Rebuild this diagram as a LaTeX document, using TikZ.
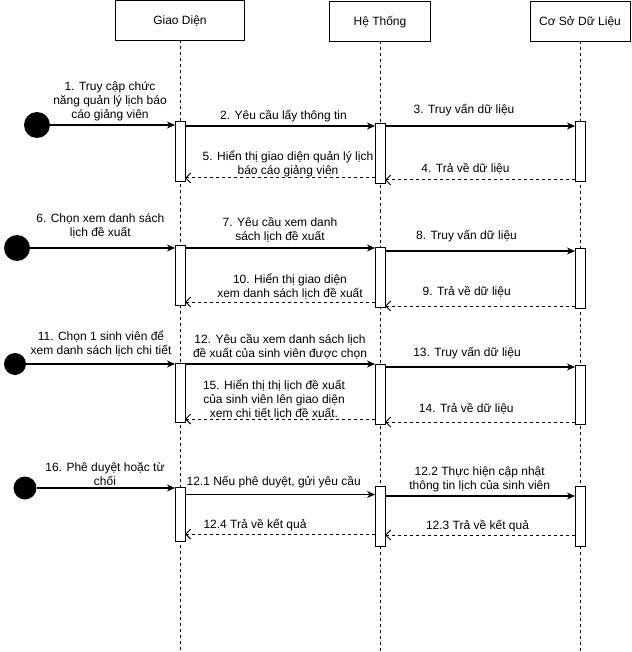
\documentclass[tikz,border=0pt]{standalone}
\usepackage{fontspec}
\setmainfont{Liberation Sans}
\usetikzlibrary{arrows.meta}
\newcommand{\fl}{\rule{0pt}{12pt}}
\begin{document}
\begin{tikzpicture}[x=1pt,y=-1pt,
  head/.style={draw, line width=1pt, fill=white, inner sep=0pt, outer sep=0pt, font=\fontsize{12}{14.4}\selectfont, text height=8.6pt, text depth=0pt, minimum height=40pt},
  life/.style={line width=1pt, dash pattern=on 3pt off 3pt},
  act/.style={draw, line width=1pt, fill=white, inner sep=0pt, outer sep=0pt, minimum width=10pt},
  initdot/.style={circle, fill=black, inner sep=0pt, outer sep=0pt},
  msg/.style={line width=1.1pt, -{Stealth[length=8pt,width=7pt,inset=2.5pt]}},
  ret/.style={line width=1pt, dash pattern=on 3pt off 3pt, -{Straight Barb[length=5pt,width=10pt]}},
  lbl/.style={font=\fontsize{12}{14}\selectfont, align=center, inner sep=0pt, anchor=north, yshift=1.5pt},
]
\useasboundingbox (0,0) rectangle (631,652);
\fill[white] (0,0) rectangle (631,652);

% headers
\node[head, minimum width=129pt] (gd) at (180,20.5) {Giao Diện};
\node[head, minimum width=101pt] (ht) at (380,21.5) {Hệ Thống};
\node[head, minimum width=100pt] (db) at (580,21.5) {Cơ Sở Dữ Liệu};

% lifelines
\coordinate (bot) at (0,652);
\draw[life] (gd.south) -- (gd.south |- bot);
\draw[life] (ht.south) -- (ht.south |- bot);
\draw[life] (db.south) -- (db.south |- bot);

% activations
\node[act, minimum height=60pt] (a1) at (180,152) {};
\node[act, minimum height=60pt] (a2) at (180,275) {};
\node[act, minimum height=59pt] (a3) at (180,392.5) {};
\node[act, minimum height=54pt] (a4) at (180,514) {};
\node[act, minimum height=60pt] (b1) at (380,154) {};
\node[act, minimum height=60pt] (b2) at (380,277) {};
\node[act, minimum height=60pt] (b3) at (380,394) {};
\node[act, minimum height=60pt] (b4) at (380,516) {};
\node[act, minimum height=60pt] (c1) at (580,152) {};
\node[act, minimum height=60pt] (c2) at (580,278) {};
\node[act, minimum height=59pt] (c3) at (580,394.5) {};
\node[act, minimum height=60pt] (c4) at (580,516) {};

% start dots
\node[initdot, minimum size=26pt] (s1) at (37,125) {};
\node[initdot, minimum size=26pt] (s2) at (17,248) {};
\node[initdot, minimum size=22pt] (s3) at (15,364) {};
\node[initdot, minimum size=23pt] (s4) at (25,488) {};

% message levels
\coordinate (y2) at (0,126);
\coordinate (y3) at (0,126);
\coordinate (y4) at (0,180);
\coordinate (y5) at (0,178);
\coordinate (y7) at (0,248);
\coordinate (y8) at (0,251);
\coordinate (y9) at (0,306);
\coordinate (y10) at (0,302);
\coordinate (y12) at (0,364);
\coordinate (y13) at (0,367);
\coordinate (y14) at (0,422);
\coordinate (y15) at (0,419);
\coordinate (y121) at (0,494.5);
\coordinate (y122) at (0,496);
\coordinate (y123) at (0,535);
\coordinate (y124) at (0,534);

% group 1
\draw[msg] (s1) -- (a1.west |- s1);
\draw[msg] (a1.east |- y2) -- (b1.west |- y2);
\draw[msg] (b1.east |- y3) -- (c1.west |- y3);
\draw[ret] (c1.west |- y4) -- (b1.east |- y4);
\draw[ret] (b1.west |- y5) -- (a1.east |- y5);
\node[lbl] (t1) at (110,79.8) {\fl 1. Truy cập chức\\năng quản lý lịch báo\\cáo giảng viên};
\node[lbl] (t2) at (283.5,109.2) {\fl 2. Yêu cầu lấy thông tin};
\node[lbl] (t3) at (464,103.2) {\fl 3. Truy vấn dữ liệu};
\node[lbl] (t4) at (465.5,161.5) {\fl 4. Trả về dữ liệu};
\node[lbl] (t5) at (288,149.5) {\fl 5. Hiển thị giao diện quản lý lịch\\báo cáo giảng viên};

% group 2
\draw[msg] (s2) -- (a2.west |- s2);
\draw[msg] (a2.east |- y7) -- (b2.west |- y7);
\draw[msg] (b2.east |- y8) -- (c2.west |- y8);
\draw[ret] (c2.west |- y9) -- (b2.east |- y9);
\draw[ret] (b2.west |- y10) -- (a2.east |- y10);
\node[lbl] (t6) at (100.3,211.5) {\fl 6. Chọn xem danh sách\\lịch đề xuất};
\node[lbl] (t7) at (280,215.5) {\fl 7. Yêu cầu xem danh\\sách lịch đề xuất};
\node[lbl] (t8) at (466.5,228.5) {\fl 8. Truy vấn dữ liệu};
\node[lbl] (t9) at (466.7,285.2) {\fl 9. Trả về dữ liệu};
\node[lbl] (t10) at (290,272.5) {\fl 10. Hiển thị giao diện\\xem danh sách lịch đề xuất};

% group 3
\draw[msg] (s3) -- (a3.west |- s3);
\draw[msg] (a3.east |- y12) -- (b3.west |- y12);
\draw[msg] (b3.east |- y13) -- (c3.west |- y13);
\draw[ret] (c3.west |- y14) -- (b3.east |- y14);
\draw[ret] (b3.west |- y15) -- (a3.east |- y15);
\node[lbl] (t11) at (101,330.2) {\fl 11. Chọn 1 sinh viên để\\xem danh sách lịch chi tiết};
\node[lbl] (t12) at (280,332.5) {\fl 12. Yêu cầu xem danh sách lịch\\đề xuất của sinh viên được chọn};
\node[lbl] (t13) at (467,345.8) {\fl 13. Truy vấn dữ liệu};
\node[lbl] (t14) at (466.3,401.8) {\fl 14. Trả về dữ liệu};
\node[lbl] (t15) at (274,378.5) {\fl 15. Hiển thị thị lịch đề xuất\\của sinh viên lên giao diện\\xem chi tiết lịch đề xuất.};

% group 4
\draw[msg] (s4) -- (a4.west |- s4);
\draw[msg] (a4.east |- y121) -- (b4.west |- y121);
\draw[msg] (b4.east |- y122) -- (c4.west |- y122);
\draw[ret] (c4.west |- y123) -- (b4.east |- y123);
\draw[ret] (b4.west |- y124) -- (a4.east |- y124);
\node[lbl] (t16) at (105,460.8) {\fl 16. Phê duyệt hoặc từ\\chối};
\node[lbl] (t121) at (273.7,475.2) {\fl 12.1 Nếu phê duyệt, gửi yêu cầu};
\node[lbl] (t122) at (479.7,464.8) {\fl 12.2 Thực hiện cập nhật\\thông tin lịch của sinh viên};
\node[lbl] (t123) at (477.5,518.5) {\fl 12.3 Trả về kết quả};
\node[lbl] (t124) at (255,517.5) {\fl 12.4 Trả về kết quả};
\end{tikzpicture}
\end{document}
